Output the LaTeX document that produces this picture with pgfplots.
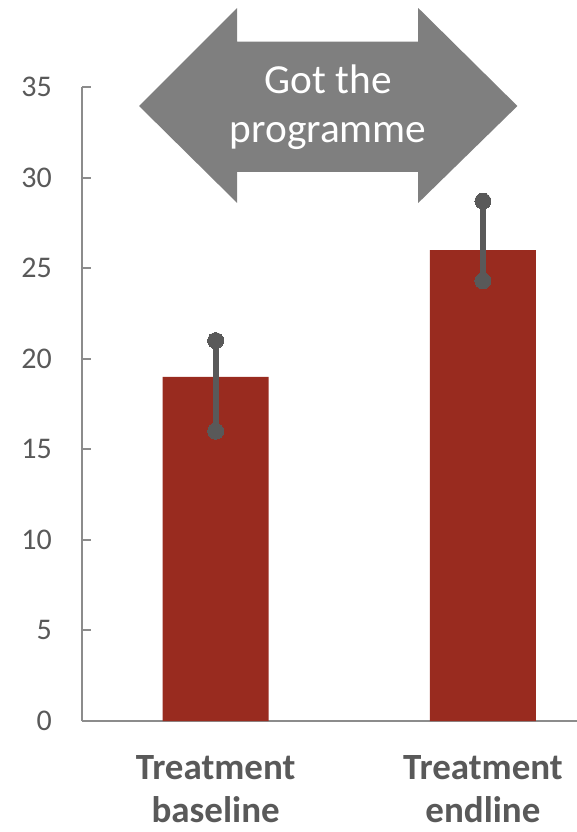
\documentclass[border=0pt]{standalone}
\usepackage{fontspec}
\setmainfont{Carlito}
\usepackage{pgfplots}
\pgfplotsset{compat=1.18}

\definecolor{barred}{HTML}{992B1F}
\definecolor{errgray}{HTML}{595959}
\definecolor{arrowgray}{HTML}{7F7F7F}
\definecolor{axisgray}{HTML}{8C8C8C}
\definecolor{labelgray}{HTML}{595959}

\begin{document}
\begin{tikzpicture}
\begin{axis}[
    name=ax,
    scale only axis,
    width=371.25pt, height=475.5pt,
    xmin=-0.5, xmax=1.352,
    ymin=0, ymax=35,
    ytick={0,5,...,35},
    xtick={0,1},
    xticklabels={{Treatment\\baseline},{Treatment\\endline}},
    axis x line=bottom, axis y line=left,
    axis line style={-, draw=axisgray, line width=1.5pt},
    tick align=inside,
    major tick length=6.75pt,
    y tick style={draw=axisgray, line width=1.5pt},
    x tick style={draw=none},
    /pgf/number format/assume math mode=true,
    yticklabel style={font=\fontsize{22.5}{27}\selectfont, text=labelgray, inner sep=0pt, xshift=-22.5pt},
    xticklabel style={font=\fontsize{27.75}{32.25}\selectfont\bfseries, text=labelgray, align=center, inner sep=0pt, yshift=-26pt},
    clip=false,
]
% bars
\addplot[ybar, bar width=0.397, bar shift=0pt, fill=barred, draw=none] coordinates {
    (0, 19)
    (1, 26)
};
% error bars
\addplot[errgray, line width=4.5pt, mark=*, mark size=6pt, mark options={line width=0pt, fill=errgray}] coordinates {
    (0, 16) (0, 21)
};
\addplot[errgray, line width=4.5pt, mark=*, mark size=6pt, mark options={line width=0pt, fill=errgray}] coordinates {
    (1, 24.3) (1, 28.7)
};
% double arrow annotation
\fill[arrowgray] (axis cs:-0.2865,33.95) -- (axis cs:0.0805,39.36) -- (axis cs:0.0805,37.5)
    -- (axis cs:0.758,37.5) -- (axis cs:0.758,39.36) -- (axis cs:1.129,33.95)
    -- (axis cs:0.758,28.6) -- (axis cs:0.758,30.32) -- (axis cs:0.0805,30.32)
    -- (axis cs:0.0805,28.6) -- cycle;
\node[white, align=center, font=\fontsize{31}{37}\selectfont] at (axis cs:0.421,33.9) {Got the\\programme};
\end{axis}
\pgfresetboundingbox
\useasboundingbox ([shift={(-61.5pt,-83.25pt)}]ax.south west) rectangle ([shift={(371.25pt,540.75pt)}]ax.south west);
\end{tikzpicture}
\end{document}
